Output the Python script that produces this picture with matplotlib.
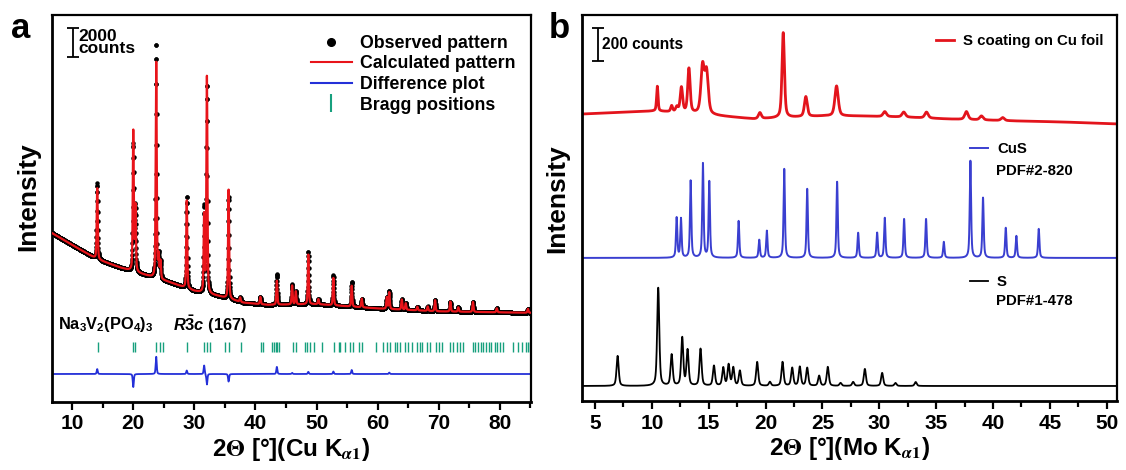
import matplotlib
matplotlib.use('Agg')
import matplotlib.pyplot as plt
from matplotlib.lines import Line2D
import numpy as np

plt.rcParams['font.family'] = 'Liberation Sans'
plt.rcParams['font.weight'] = 'bold'
plt.rcParams['mathtext.fontset'] = 'custom'
plt.rcParams['mathtext.rm'] = 'Liberation Sans:bold'
plt.rcParams['mathtext.it'] = 'Liberation Sans:italic:bold'
plt.rcParams['mathtext.bf'] = 'Liberation Sans:bold'

# ---------------- panel a: Rietveld refinement of Na3V2(PO4)3 (Cu Ka1) ----------------
# background (counts) read at a few angles
a_bg_x = [6.7, 10, 14, 18, 22, 26, 30, 34, 38, 42, 50, 60, 70, 85.1]
a_bg_y = [11650, 10830, 9860, 9250, 8750, 8250, 7650, 7300, 6850, 6700, 6750, 6450, 6250, 6150]

# peaks: position, observed height, calculated height (counts above background)
a_peak_pos = [14.1, 20.0, 20.35, 23.75, 24.15, 24.45, 28.75, 31.6, 32.05, 35.6, 37.5, 40.8,
              43.5, 46.0, 46.6, 48.65, 50.3, 52.75, 55.75, 57.4, 61.5, 61.9, 63.95, 64.6,
              66.5, 68.2, 69.4, 71.9, 73.2, 75.6, 79.5, 84.6]
a_peak_obs = [5240, 8750, 4500, 16200, 1500, 1200, 6340, 5900, 14300, 7000, 300, 500,
              2140, 1380, 900, 3600, 350, 2070, 1725, 600, 800, 1250, 700, 450,
              250, 300, 760, 690, 300, 690, 276, 276]
a_peak_calc = [4900, 9650, 4500, 15000, 1500, 1200, 6100, 5300, 15040, 7520, 300, 500,
               1650, 1300, 900, 3450, 350, 1900, 1450, 600, 800, 1150, 700, 450,
               250, 300, 760, 690, 300, 690, 276, 276]

a_bragg = [14.2, 20.0, 20.3, 23.75, 24.3, 24.8, 28.8, 31.6, 32.05, 32.5, 35.0, 35.6, 37.6,
           40.9, 41.3, 42.7, 43.0, 43.3, 43.5, 43.9, 46.2, 46.7, 48.1, 48.4, 48.95, 49.5,
           50.9, 52.8, 53.6, 53.9, 54.7, 55.5, 56.0, 56.9, 57.4, 59.75, 60.95, 61.5, 62.0,
           62.9, 63.1, 63.7, 64.5, 65.0, 65.6, 66.4, 66.9, 67.3, 68.1, 68.6, 69.5, 70.0,
           70.6, 71.9, 72.3, 73.0, 73.4, 74.0, 75.6, 76.0, 76.5, 76.9, 77.3, 77.8, 78.2,
           78.6, 79.2, 79.6, 80.1, 80.5, 82.2, 82.9, 83.6, 84.2, 84.6, 85.0]

# ---------------- panel b: S coating vs references (Mo Ka1) ----------------
s_bg_x = [3.9, 8, 10.3, 13, 16, 19, 21, 25, 28, 32, 36, 42, 46, 50.9]
s_bg_y = [1739, 1751, 1757, 1745, 1727, 1709, 1715, 1727, 1727, 1721, 1709, 1697, 1691, 1679]
s_peak_pos = [10.48, 11.74, 12.2, 12.6, 13.26, 14.46, 14.81, 19.5, 21.55, 23.54, 26.24,
              30.48, 32.15, 34.15, 37.66, 38.98, 40.85]
s_peak_h = [150, 36, 30, 150, 268, 285, 250, 36, 515, 121, 182, 30, 30, 36, 48, 24, 18]
s_peak_w = [0.15, 0.2, 0.25, 0.25, 0.25, 0.35, 0.35, 0.3, 0.25, 0.3, 0.35, 0.35, 0.35,
            0.35, 0.35, 0.35, 0.35]

cus_base = 867
cus_pos = [12.18, 12.56, 13.41, 14.49, 15.05, 17.63, 19.44, 20.11, 21.64, 23.66, 26.29,
           28.14, 29.81, 30.48, 32.18, 34.11, 35.67, 38.01, 39.12, 41.12, 42.05, 44.02]
cus_h = [242, 236, 467, 570, 461, 224, 109, 164, 539, 418, 461,
         152, 152, 242, 236, 236, 97, 588, 364, 182, 133, 176]

sref_base = 91
sref_pos = [6.99, 10.56, 11.74, 12.67, 13.14, 14.28, 15.46, 16.28, 16.75, 17.16, 17.74,
            19.26, 20.38, 21.49, 22.34, 23.01, 23.66, 24.71, 25.47, 26.59, 27.70, 28.73,
            30.25, 31.42, 33.2]
sref_h = [182, 594, 188, 290, 215, 224, 121, 109, 127, 109, 91,
          145, 24, 145, 109, 115, 109, 61, 115, 18, 24, 103, 79, 18, 24]


def pv(x, pos, hts, fwhm, eta):
    y = np.zeros_like(x)
    fw = np.broadcast_to(np.asarray(fwhm, dtype=float), (len(pos),))
    for p, h, w in zip(pos, hts, fw):
        d = (x - p) / w
        y += h * (eta / (1 + 4 * d ** 2) + (1 - eta) * np.exp(-4 * np.log(2) * d ** 2))
    return y


fig = plt.figure(figsize=(11.26, 4.70), dpi=100)
ax1 = fig.add_axes([0.0462, 0.1447, 0.4254, 0.8234])
ax2 = fig.add_axes([0.5169, 0.1468, 0.4751, 0.8213])

# ---- panel a
xa = np.arange(6.7, 85.1, 0.02)
bg_a = np.interp(xa, a_bg_x, a_bg_y)
obs = bg_a + pv(xa, a_peak_pos, a_peak_obs, 0.2, 0.4)
calc = bg_a + pv(xa, a_peak_pos, a_peak_calc, 0.2, 0.4)
diff_offset = 1930

ax1.plot(xa, obs, 'o', color='black', ms=3.2, mew=0, zorder=2)
ax1.plot(xa, calc, color='#e8141a', lw=1.6, zorder=3)
ax1.plot(xa, obs - calc + diff_offset, color='#2430d8', lw=1.3, zorder=2)
ax1.vlines(a_bragg, 3450, 4140, color='#17a07e', lw=1.0)

ax1.set_xlim(6.7, 85.1)
ax1.set_ylim(0, 26690)
ax1.set_xticks(np.arange(10, 81, 10))
ax1.set_xticks(np.arange(15, 86, 10), minor=True)
ax1.set_yticks([])
ax1.set_xlabel(r'2$\Theta$ [°](Cu K$_{\alpha1}$)', fontsize=17.5, fontweight='bold',
               math_fontfamily='stix', labelpad=2)
ax1.set_ylabel('Intensity', fontsize=19, fontweight='bold')
ax1.yaxis.set_label_coords(-0.025, 0.53)

# scale bar 2000 counts
ax1.errorbar([10.2], [24800], yerr=[1000], color='black', lw=1.3, capsize=4.5, capthick=1.3)
ax1.text(11.0, 24800, '2000\ncounts', fontsize=12.5, fontweight='bold', va='center',
         ha='left', linespacing=0.8)

ax1.text(0.013, 0.199, r'Na$_3$V$_2$(PO$_4$)$_3$', transform=ax1.transAxes, fontsize=11.8,
         va='center', ha='left')
ax1.text(0.252, 0.199, r'$R\bar{3}c$ (167)', transform=ax1.transAxes, fontsize=11.8,
         va='center', ha='left')

handles = [Line2D([], [], marker='o', ls='none', color='black', ms=5.5),
           Line2D([], [], color='#e8141a', lw=1.5),
           Line2D([], [], color='#2430d8', lw=1.5),
           Line2D([], [], marker='|', ls='none', color='#17a07e', ms=13, mew=1.5)]
ax1.legend(handles, ['Observed pattern', 'Calculated pattern', 'Difference plot',
                     'Bragg positions'],
           loc='upper right', bbox_to_anchor=(1.0, 0.99), frameon=False,
           prop={'weight': 'bold', 'size': 12.8}, handlelength=2.3, handletextpad=0.45,
           labelspacing=0.2)

ax1.text(-0.085, 0.965, 'a', transform=ax1.transAxes, fontsize=25, fontweight='bold',
         va='center', ha='left')

# ---- panel b
xb = np.arange(3.9, 50.9, 0.01)
s_curve = np.interp(xb, s_bg_x, s_bg_y) + pv(xb, s_peak_pos, s_peak_h, s_peak_w, 0.5)
cus_curve = cus_base + pv(xb, cus_pos, cus_h, 0.14, 0.6)
sref_curve = sref_base + pv(xb, sref_pos, sref_h, 0.22, 0.5)

l_s, = ax2.plot(xb, s_curve, color='#e3141c', lw=2.0)
l_cus, = ax2.plot(xb, cus_curve, color='#3a3fd0', lw=1.4)
l_sref, = ax2.plot(xb, sref_curve, color='black', lw=1.3)

ax2.set_xlim(3.86, 50.9)
ax2.set_ylim(0, 2339)
ax2.set_xticks(np.arange(5, 51, 5))
ax2.set_xticks(np.arange(7.5, 51, 5), minor=True)
ax2.set_yticks([])
ax2.set_xlabel(r'2$\Theta$ [°](Mo K$_{\alpha1}$)', fontsize=17.5, fontweight='bold',
               math_fontfamily='stix', labelpad=2)
ax2.set_ylabel('Intensity', fontsize=19, fontweight='bold')
ax2.yaxis.set_label_coords(-0.023, 0.525)

ax2.errorbar([5.26], [2160], yerr=[100], color='black', lw=1.3, capsize=4.5, capthick=1.3)
ax2.text(5.6, 2160, '200 counts', fontsize=11.2, fontweight='bold', va='center', ha='left')

leg_kw = dict(frameon=False, prop={'weight': 'bold', 'size': 10.8}, handlelength=1.2,
              handletextpad=0.6)
lg1 = ax2.legend([l_s], ['S coating on Cu foil'], loc='upper right',
                 bbox_to_anchor=(1.0, 0.985), **leg_kw)
ax2.add_artist(lg1)
lg2 = ax2.legend([l_cus], ['CuS'], loc='center left',
                 bbox_to_anchor=(0.7, 0.653), **leg_kw)
ax2.add_artist(lg2)
ax2.legend([l_sref], ['S'], loc='center left',
           bbox_to_anchor=(0.7, 0.308), **leg_kw)
ax2.text(0.774, 0.596, 'PDF#2-820', transform=ax2.transAxes, fontsize=10.8,
         fontweight='bold', va='center', ha='left')
ax2.text(0.774, 0.258, 'PDF#1-478', transform=ax2.transAxes, fontsize=10.8,
         fontweight='bold', va='center', ha='left')

ax2.text(-0.063, 0.965, 'b', transform=ax2.transAxes, fontsize=25, fontweight='bold',
         va='center', ha='left')

for ax in (ax1, ax2):
    for side in ('top', 'right'):
        ax.spines[side].set_linewidth(1.6)
    for side in ('left', 'bottom'):
        ax.spines[side].set_linewidth(2.0)
    ax.tick_params(axis='x', which='major', direction='out', length=6, width=1.6,
                   labelsize=15, pad=3)
    ax.tick_params(axis='x', which='minor', direction='out', length=4, width=1.6)
    for lab in ax.get_xticklabels():
        lab.set_fontweight('bold')

fig.savefig('out.png', dpi=100)
